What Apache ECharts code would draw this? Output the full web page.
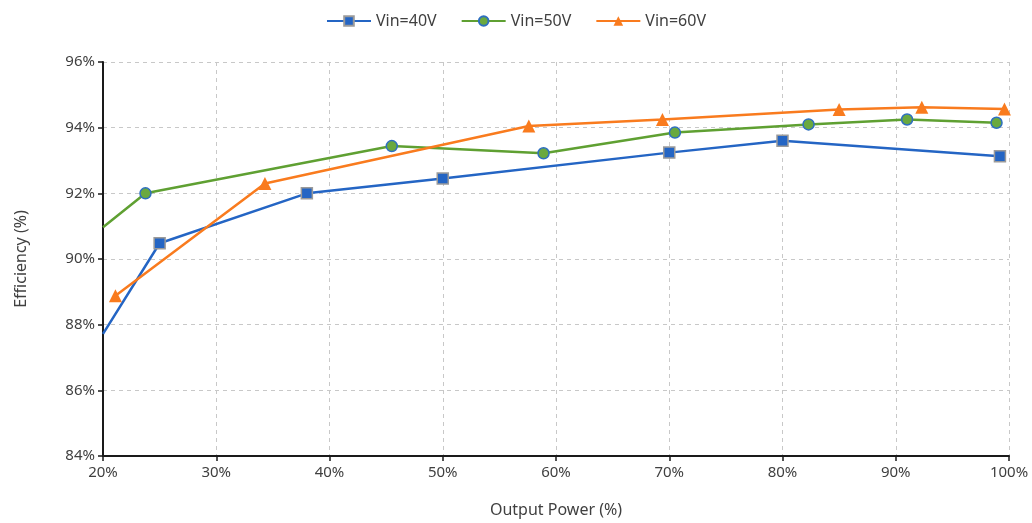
<!DOCTYPE html>
<html>
<head>
<meta charset="utf-8">
<script src="https://cdn.jsdelivr.net/npm/echarts@6/dist/echarts.min.js"></script>
<style>html,body{margin:0;padding:0;background:#fff}#c{width:1032px;height:523px}</style>
</head>
<body>
<div id="c"></div>
<script>
const seriesNames = ['Vin=40V', 'Vin=50V', 'Vin=60V'];
const power40 = [20, 25.0, 38.0, 50.0, 70.0, 80.0, 99.2];
const eff40   = [87.72, 90.48, 92.0, 92.45, 93.24, 93.6, 93.13];
const power50 = [20, 23.75, 45.5, 58.9, 70.5, 82.3, 91.0, 98.9];
const eff50   = [90.97, 92.0, 93.44, 93.22, 93.85, 94.1, 94.25, 94.15];
const power60 = [21.1, 34.3, 57.6, 69.4, 85.0, 92.3, 99.6];
const eff60   = [88.88, 92.3, 94.05, 94.25, 94.55, 94.62, 94.57];

// points sitting on the axis edge (x = 20%) are drawn without a marker
const zip = (a, b) => a.map((v, i) => v <= 20 ? {value: [v, b[i]], symbol: 'none'} : [v, b[i]]);
const FONT = '"Noto Sans", sans-serif';
const TXT = '#404040';

const chart = echarts.init(document.getElementById('c'), null, {renderer: 'canvas'});
chart.setOption({
  animation: false,
  backgroundColor: '#fff',
  textStyle: {fontFamily: FONT},
  legend: {
    top: 8, left: 'center', itemWidth: 44, itemHeight: 12, itemGap: 24,
    textStyle: {fontFamily: FONT, fontSize: 16, color: TXT},
    data: seriesNames
  },
  grid: {left: 103, right: 23, top: 62, bottom: 66},
  xAxis: {
    type: 'value', min: 20, max: 100, interval: 10,
    name: 'Output Power (%)', nameLocation: 'middle', nameGap: 46,
    nameTextStyle: {fontFamily: FONT, fontSize: 16, color: TXT},
    axisLine: {show: true, lineStyle: {color: '#1a1a1a', width: 2}},
    axisTick: {show: true, length: 5, lineStyle: {color: '#1a1a1a', width: 1.5}},
    axisLabel: {formatter: '{value}%', fontFamily: FONT, fontSize: 15, color: TXT, margin: 9},
    splitLine: {show: true, lineStyle: {color: '#c8c8c8', type: [4, 4], width: 1}}
  },
  yAxis: {
    type: 'value', min: 84, max: 96, interval: 2,
    name: 'Efficiency (%)', nameLocation: 'middle', nameGap: 74, nameRotate: 90,
    nameTextStyle: {fontFamily: FONT, fontSize: 16, color: TXT},
    axisLine: {show: true, lineStyle: {color: '#1a1a1a', width: 2}},
    axisTick: {show: true, length: 5, lineStyle: {color: '#1a1a1a', width: 1.5}},
    axisLabel: {formatter: '{value}%', fontFamily: FONT, fontSize: 15, color: TXT, margin: 8},
    splitLine: {show: true, lineStyle: {color: '#c8c8c8', type: [4, 4], width: 1}}
  },
  series: [
    {
      name: seriesNames[0], type: 'line', data: zip(power40, eff40),
      symbol: 'rect', symbolSize: 11,
      lineStyle: {color: '#2465c4', width: 2.5},
      itemStyle: {color: '#2465c4', borderColor: '#9a9a9a', borderWidth: 1.5},
      z: 3
    },
    {
      name: seriesNames[1], type: 'line', data: zip(power50, eff50),
      symbol: 'circle', symbolSize: 11,
      lineStyle: {color: '#5fa032', width: 2.5},
      itemStyle: {color: '#6aa93f', borderColor: '#2e6fc0', borderWidth: 1.5},
      z: 4
    },
    {
      name: seriesNames[2], type: 'line', data: zip(power60, eff60),
      symbol: 'triangle', symbolSize: 13,
      lineStyle: {color: '#f97b1e', width: 2.5},
      itemStyle: {color: '#f97b1e', borderColor: '#f97b1e', borderWidth: 0},
      z: 5
    }
  ]
});
</script>
</body>
</html>
